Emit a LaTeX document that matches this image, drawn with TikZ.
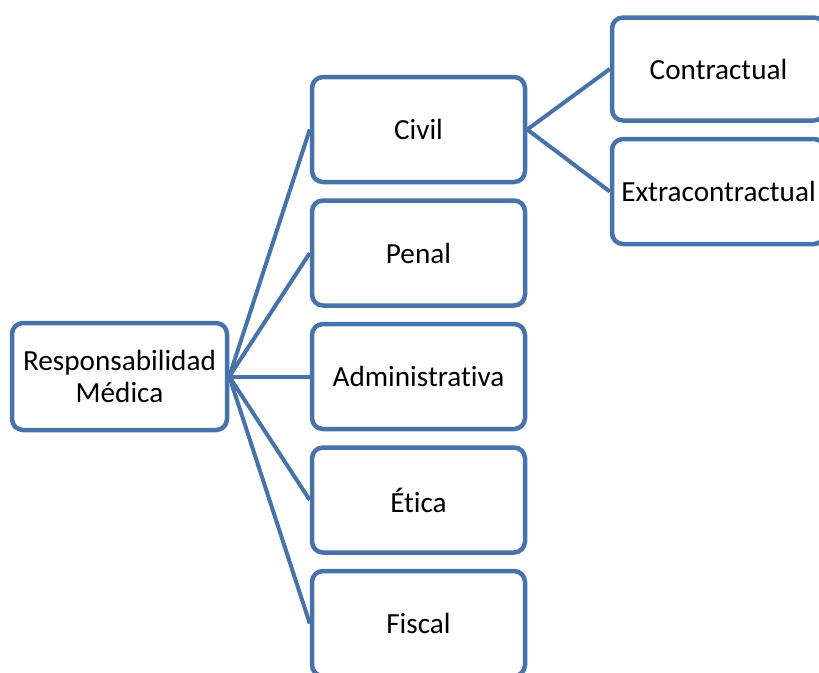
\documentclass[tikz,border=0pt]{standalone}
\usepackage{fontspec}
\setmainfont{Carlito}[Ligatures={NoCommon}]
\definecolor{boxblue}{RGB}{72,115,170}
\begin{document}
\begin{tikzpicture}[x=1pt,y=-1pt,
  box/.style={draw=boxblue, line width=4.5pt, rounded corners=11pt, fill=white,
    minimum width=213pt, minimum height=105pt, inner sep=0pt, align=center,
    font=\fontsize{29.2}{32}\selectfont},
  link/.style={draw=boxblue, line width=4pt}]
\useasboundingbox (0,0) rectangle (819,672);
\node[box, minimum width=215pt, minimum height=107pt] (resp) at (119.5,376.5) {Responsabilidad\\Médica};
\node[box] (civil) at (418.5,129.5) {Civil};
\node[box] (penal) at (418.5,253) {Penal};
\node[box] (admin) at (418.5,376.5) {Administrativa};
\node[box] (etica) at (418.5,500) {Ética};
\node[box] (fiscal) at (418.5,623.5) {Fiscal};
\node[box, minimum height=103pt] (contr) at (718.5,69) {Contractual};
\node[box, minimum height=105pt] (extra) at (718.5,191.5) {Extracontractual};
\foreach \t in {civil,penal,admin,etica,fiscal}
  \draw[link] (resp.east) -- (\t.west);
\draw[link] (civil.east) -- (contr.west);
\draw[link] (civil.east) -- (extra.west);
\end{tikzpicture}
\end{document}
